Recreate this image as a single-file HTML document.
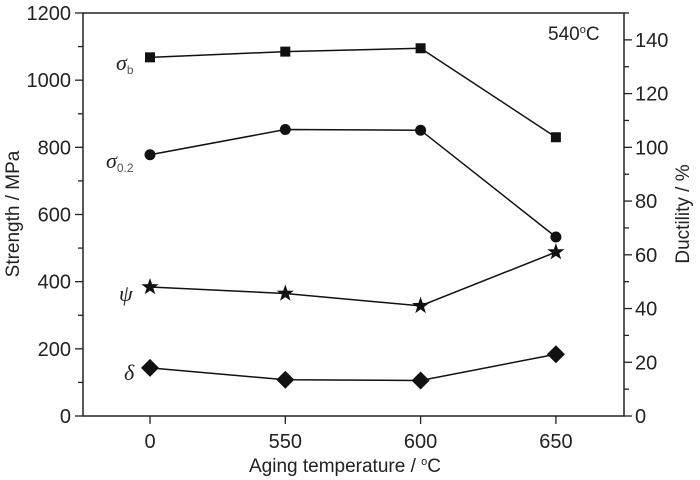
<!DOCTYPE html>
<html><head><meta charset="utf-8"><style>
html,body{margin:0;padding:0;background:#fff;}
svg{display:block;font-family:"Liberation Sans",sans-serif;}
</style></head><body>
<svg id="chart" width="700" height="480"></svg>
<script>
const categories=["0","550","600","650"];
const sigmaB=[1068,1085,1095,830];
const sigma02=[778,853,851,533];
const psi=[48,45.6,41,61];
const delta=[17.9,13.5,13.2,23];
const leftTicks=[0,200,400,600,800,1000,1200];
const rightTicks=[0,20,40,60,80,100,120,140];
const L=83,R=624,T=13,B=416;
const NS="http://www.w3.org/2000/svg";
const svg=document.getElementById('chart');
const xs=i=>150+i*135.3;
const yl=v=>B-(v/1200)*(B-T);
const yr=v=>B-(v/150)*(B-T);
function el(tag,attrs,parent){const e=document.createElementNS(NS,tag);for(const k in attrs)e.setAttribute(k,attrs[k]);(parent||svg).appendChild(e);return e;}
function txt(x,y,s,attrs,name){const t=el('text',Object.assign({x:x,y:y,'font-size':20,fill:'#222'},attrs||{}));t.textContent=s;


return t;}
const frame=el('rect',{x:L,y:T,width:R-L,height:B-T,fill:'none',stroke:'#222','stroke-width':1.5});


for(let v=0;v<=1200;v+=100){const y=yl(v);const t=el('line',{x1:L-(v%200===0?8:5),x2:L,y1:y,y2:y,stroke:'#222','stroke-width':1.3});

}
leftTicks.forEach(v=>txt(L-12,yl(v)+7,String(v),{'text-anchor':'end'},'left-tick-label'));
for(let v=0;v<=150;v+=10){const y=yr(v);const t=el('line',{x1:R,x2:R+(v%20===0?8:5),y1:y,y2:y,stroke:'#222','stroke-width':1.3});

}
rightTicks.forEach(v=>txt(R+11,yr(v)+7,String(v),{'text-anchor':'start'},'right-tick-label'));
categories.forEach((c,i)=>{const t=el('line',{x1:xs(i),x2:xs(i),y1:B,y2:B+8,stroke:'#222','stroke-width':1.3});


txt(xs(i),B+32,c,{'text-anchor':'middle'},'x-tick-label');});
const xt=txt(345,472,'Aging temperature / ',{'text-anchor':'middle','font-size':19},'x-axis-title');
const sup=el('tspan',{'font-size':11,dy:-7},xt);sup.textContent='o';const cc=el('tspan',{dy:7},xt);cc.textContent='C';
txt(0,0,'Strength / MPa',{'text-anchor':'middle','font-size':19,transform:'translate(19,214) rotate(-90)'},'left-axis-title');
txt(0,0,'Ductility / %',{'text-anchor':'middle','font-size':19,transform:'translate(689,214) rotate(-90)'},'right-axis-title');
const ann=txt(548,40,'540',{'font-size':19},'temperature-annotation');
const s2=el('tspan',{'font-size':11,dy:-7},ann);s2.textContent='o';const c2=el('tspan',{dy:7},ann);c2.textContent='C';
function series(vals,ys,shape,name){
 const pts=vals.map((v,i)=>[xs(i),ys(v)]);
 const pl=el('polyline',{points:pts.map(p=>p.join(',')).join(' '),fill:'none',stroke:'#111','stroke-width':1.5});
 
 
 pts.forEach(([x,y])=>{let m;
  if(shape==='sq')m=el('rect',{x:x-5,y:y-5,width:10,height:10,fill:'#111'});
  else if(shape==='ci')m=el('circle',{cx:x,cy:y,r:5.5,fill:'#111'});
  else if(shape==='di')m=el('polygon',{points:`${x},${y-9} ${x+9},${y} ${x},${y+9} ${x-9},${y}`,fill:'#111'});
  else{let p=[];for(let k=0;k<10;k++){const r=k%2?3.6:9,a=-Math.PI/2+k*Math.PI/5;p.push((x+r*Math.cos(a)).toFixed(1)+','+(y+r*Math.sin(a)).toFixed(1));}m=el('polygon',{points:p.join(' '),fill:'#111'});}
  
  });
}
series(sigmaB,yl,'sq','sigma-b');
series(sigma02,yl,'ci','sigma-02');
series(psi,yr,'st','psi');
series(delta,yr,'di','delta');
function lab(x,y,main,sub,name){const t=txt(x,y,main,{'font-family':'"Liberation Serif",serif','font-style':'italic','font-size':22},name);
 if(sub){const s=el('tspan',{'font-size':12,'font-style':'normal','font-family':'"Liberation Sans",sans-serif',dy:4,fill:'#555'},t);s.textContent=sub;}}
lab(116,70,'σ','b','sigma-b-label');
lab(106,168,'σ','0.2','sigma-02-label');
lab(119,301,'ψ','','psi-label');
lab(124,380,'δ','','delta-label');
</script>
</body></html>
